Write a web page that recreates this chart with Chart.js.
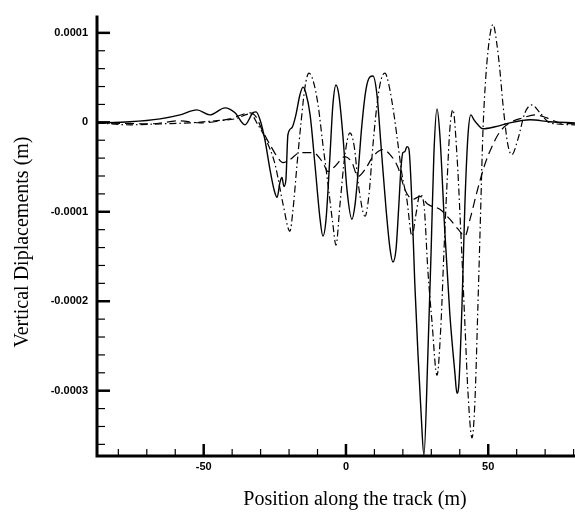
<!DOCTYPE html>
<html lang="en">
<head>
    <meta charset="UTF-8">
    <title>Vertical Displacements</title>
    <style>
        body { margin: 0; background: #fff; }
        #myChart { display: block; }
    </style>
</head>
<body>
    <canvas id="myChart" width="575" height="516"></canvas>

    <script src="https://cdn.jsdelivr.net/npm/chart.js"></script>
    <script>
        // Position along the track (m) and vertical displacement (m)
        const solidX = [-87.5, -75.9, -65.3, -58.3, -52.4, -47.8, -42.5, -39.0, -35.5, -32.7, -31.6, -30.2, -28.5, -26.7, -25.3, -24.2, -23.2, -22.5, -21.8, -21.1,
            -20.4, -19.0, -17.6, -16.2, -15.1, -14.1, -12.6, -10.9, -9.1, -8.1, -7.0, -5.6, -4.6, -3.5, -2.5, -1.1, 0.35, 2.1, 3.2, 4.2,
            5.6, 7.0, 8.4, 9.5, 10.9, 12.3, 14.1, 15.5, 16.5, 17.6, 18.6, 19.3, 20.0, 20.7, 21.4, 22.1, 23.2, 24.2, 25.3, 26.4,
            27.4, 28.8, 29.9, 30.9, 32.0, 33.0, 34.8, 36.5, 38.3, 39.0, 39.7, 40.8, 41.8, 42.9, 43.9, 45.0, 46.4, 48.1, 52.4, 57.6,
            64.7, 71.7, 80.5];
        const solidY = [-0.06e-5, 0.06e-5, 0.39e-5, 0.83e-5, 1.39e-5, 0.83e-5, 1.61e-5, 1.06e-5, -0.28e-5, 1.06e-5, 1.17e-5, 0.28e-5, -1.94e-5, -5.28e-5, -7.5e-5, -8.39e-5, -6.72e-5, -6.17e-5, -7.17e-5, -6.39e-5,
            -1.39e-5, -0.61e-5, 0.83e-5, 3.06e-5, 3.94e-5, 3.28e-5, 0.83e-5, -4.72e-5, -10.83e-5, -12.72e-5, -10.83e-5, -3.61e-5, 1.94e-5, 4.17e-5, 3.06e-5, -1.39e-5, -7.5e-5, -10.83e-5, -9.17e-5, -5.83e-5,
            -0.28e-5, 3.61e-5, 5.06e-5, 5.17e-5, 3.06e-5, -2.5e-5, -9.72e-5, -14.17e-5, -15.61e-5, -14.17e-5, -9.17e-5, -5.28e-5, -3.39e-5, -3.28e-5, -2.72e-5, -2.94e-5, -9.17e-5, -18.06e-5, -25.83e-5, -32.5e-5,
            -37.2e-5, -25.83e-5, -14.72e-5, -3.61e-5, 1.5e-5, -1.39e-5, -12.5e-5, -21.39e-5, -28.06e-5, -30.28e-5, -29.17e-5, -20.28e-5, -9.17e-5, -1.39e-5, 0.83e-5, 0.28e-5, -0.28e-5, -0.72e-5, -0.5e-5, -0.06e-5,
            0.28e-5, 0.06e-5, -0.06e-5];

        const dashX = [-87.5, -68.9, -58.3, -51.3, -40.8, -33.7, -31.6, -29.5, -26.7, -24.2, -22.1, -19.7, -16.2, -11.6, -8.1, -6.3, -3.9, -0.35, 2.1, 4.2,
            6.7, 9.5, 13.0, 15.5, 18.3, 20.7, 23.5, 26.0, 28.8, 33.0, 36.5, 39.4, 41.8, 43.6, 46.0, 48.8, 51.3, 54.1, 57.6, 62.2,
            66.4, 70.6, 75.2, 80.5];
        const dashY = [-0.06e-5, -0.17e-5, 0.17e-5, -0.06e-5, 0.39e-5, 1.06e-5, 0.61e-5, -0.83e-5, -2.5e-5, -3.83e-5, -4.5e-5, -4.17e-5, -3.39e-5, -3.39e-5, -4.5e-5, -5.5e-5, -4.94e-5, -3.83e-5, -4.5e-5, -6.06e-5,
            -5.28e-5, -3.83e-5, -3.06e-5, -3.61e-5, -5.06e-5, -7.5e-5, -8.61e-5, -8.28e-5, -9.17e-5, -9.72e-5, -10.83e-5, -11.94e-5, -12.72e-5, -10.83e-5, -7.83e-5, -4.72e-5, -2.72e-5, -1.06e-5, -0.06e-5, 0.5e-5,
            0.83e-5, 0.5e-5, -0.06e-5, -0.17e-5];

        const dashDotX = [-87.5, -75.9, -65.3, -54.8, -46.0, -39.0, -33.7, -30.9, -28.1, -24.9, -22.1, -19.7, -18.6, -17.2, -15.8, -14.4, -13.0, -11.6, -9.8, -8.1,
            -6.3, -4.6, -3.5, -2.1, -0.35, 1.4, 2.8, 4.6, 6.7, 8.1, 9.5, 10.9, 12.3, 13.7, 15.1, 16.9, 18.3, 19.7, 21.4, 23.2,
            24.6, 26.0, 27.4, 28.8, 30.2, 32.0, 33.4, 34.4, 35.5, 36.5, 37.6, 39.0, 40.4, 41.8, 42.9, 44.3, 45.3, 46.4, 47.4, 48.1,
            49.2, 50.6, 51.7, 53.1, 54.1, 55.2, 56.9, 58.3, 60.4, 62.9, 65.4, 68.2, 71.7, 80.5];
        const dashDotY = [-0.06e-5, -0.28e-5, -0.17e-5, -0.06e-5, 0.17e-5, 0.39e-5, 0.94e-5, -0.28e-5, -1.94e-5, -4.72e-5, -9.17e-5, -12.17e-5, -9.72e-5, -4.72e-5, -0.06e-5, 3.94e-5, 5.5e-5, 4.72e-5, 1.94e-5, -2.5e-5,
            -6.94e-5, -11.39e-5, -13.72e-5, -9.17e-5, -3.61e-5, -1.17e-5, -2.5e-5, -7.5e-5, -10.5e-5, -8.06e-5, -2.5e-5, 1.94e-5, 4.72e-5, 5.5e-5, 4.17e-5, 0.83e-5, -2.5e-5, -5.83e-5, -8.61e-5, -12.72e-5,
            -10.28e-5, -8.06e-5, -9.17e-5, -16.61e-5, -22.17e-5, -28.28e-5, -22.5e-5, -14.72e-5, -6.94e-5, -0.83e-5, 1.39e-5, -3.61e-5, -12.5e-5, -22.5e-5, -30.28e-5, -35.28e-5, -31.39e-5, -20.28e-5, -9.17e-5, -1.39e-5,
            5.28e-5, 9.72e-5, 10.94e-5, 8.61e-5, 5.83e-5, 1.94e-5, -2.5e-5, -3.61e-5, -1.94e-5, 1.06e-5, 1.94e-5, 1.06e-5, -0.06e-5, -0.28e-5];

        const xTickValues = [-50, 0, 50];
        const xTickLabels = ['-50', '0', '50'];
        const yTickValues = [-0.0003, -0.0002, -0.0001, 0, 0.0001];
        const yTickLabels = ['-0.0003', '-0.0002', '-0.0001', '0', '0.0001'];

        const xTitle = 'Position along the track (m)';
        const yTitle = 'Vertical Diplacements (m)';

        function pairs(xs, ys) {
            return xs.map((x, i) => ({ x: x, y: ys[i] }));
        }

        // axis lines, inward tick marks and the two axis titles
        const frame = {
            id: 'frame',
            afterDraw(chart) {
                const ctx = chart.ctx;
                const a = chart.chartArea;
                const xs = chart.scales.x;
                const ys = chart.scales.y;
                ctx.save();
                ctx.strokeStyle = '#000';
                ctx.lineCap = 'butt';

                for (let v = -80; v <= 80; v += 10) {
                    const major = v % 50 === 0;
                    const px = xs.getPixelForValue(v);
                    ctx.lineWidth = major ? 2.5 : 1.2;
                    ctx.beginPath();
                    ctx.moveTo(px, a.bottom);
                    ctx.lineTo(px, a.bottom - (major ? 12 : 7));
                    ctx.stroke();
                }
                for (let k = -18; k <= 5; k++) {
                    const v = k * 2e-5;
                    const major = k % 5 === 0;
                    const py = ys.getPixelForValue(v);
                    if (py < a.top || py > a.bottom) continue;
                    ctx.lineWidth = major ? 2.5 : 1.2;
                    ctx.beginPath();
                    ctx.moveTo(a.left, py);
                    ctx.lineTo(a.left + (major ? 13 : 8), py);
                    ctx.stroke();
                }

                ctx.lineWidth = 3;
                ctx.beginPath();
                ctx.moveTo(a.left, a.top);
                ctx.lineTo(a.left, a.bottom);
                ctx.lineTo(a.right, a.bottom);
                ctx.stroke();

                ctx.fillStyle = '#000';
                ctx.font = '20px "Liberation Serif"';
                ctx.textAlign = 'center';
                ctx.textBaseline = 'middle';
                ctx.fillText(xTitle, 355, 500);
                ctx.translate(23, 242);
                ctx.rotate(-Math.PI / 2);
                ctx.fillText(yTitle, 0, 0);
                ctx.restore();
            }
        };

        const tickFont = { family: 'Liberation Sans', size: 11, weight: 'bold' };

        new Chart(document.getElementById('myChart').getContext('2d'), {
            type: 'line',
            data: {
                datasets: [{
                    label: 'solid',
                    data: pairs(solidX, solidY),
                    borderColor: '#000',
                    borderWidth: 1.4
                }, {
                    label: 'dashed',
                    data: pairs(dashX, dashY),
                    borderColor: '#000',
                    borderWidth: 1.2,
                    borderDash: [9, 5]
                }, {
                    label: 'dash-dot',
                    data: pairs(dashDotX, dashDotY),
                    borderColor: '#000',
                    borderWidth: 1.2,
                    borderDash: [7, 3, 1.5, 3]
                }]
            },
            options: {
                responsive: false,
                animation: false,
                layout: { padding: { top: 10, right: 0, bottom: 0, left: 0 } },
                elements: {
                    point: { radius: 0 },
                    line: { cubicInterpolationMode: 'monotone', fill: false }
                },
                plugins: {
                    legend: { display: false },
                    tooltip: { enabled: false }
                },
                scales: {
                    x: {
                        type: 'linear',
                        min: -87.5,
                        max: 80.5,
                        grid: { display: false, drawTicks: false },
                        border: { display: false },
                        afterBuildTicks: s => { s.ticks = xTickValues.map(v => ({ value: v })); },
                        afterFit: s => { s.height = 60; },
                        ticks: {
                            padding: 4,
                            color: '#000',
                            font: tickFont,
                            maxRotation: 0,
                            callback: v => xTickLabels[xTickValues.indexOf(v)]
                        }
                    },
                    y: {
                        min: -0.000373,
                        max: 0.0001193,
                        grid: { display: false, drawTicks: false },
                        border: { display: false },
                        afterBuildTicks: s => { s.ticks = yTickValues.map(v => ({ value: v })); },
                        afterFit: s => { s.width = 97; },
                        ticks: {
                            padding: 9,
                            color: '#000',
                            font: tickFont,
                            callback: v => yTickLabels[yTickValues.indexOf(v)]
                        }
                    }
                }
            },
            plugins: [frame]
        });
    </script>
</body>
</html>
